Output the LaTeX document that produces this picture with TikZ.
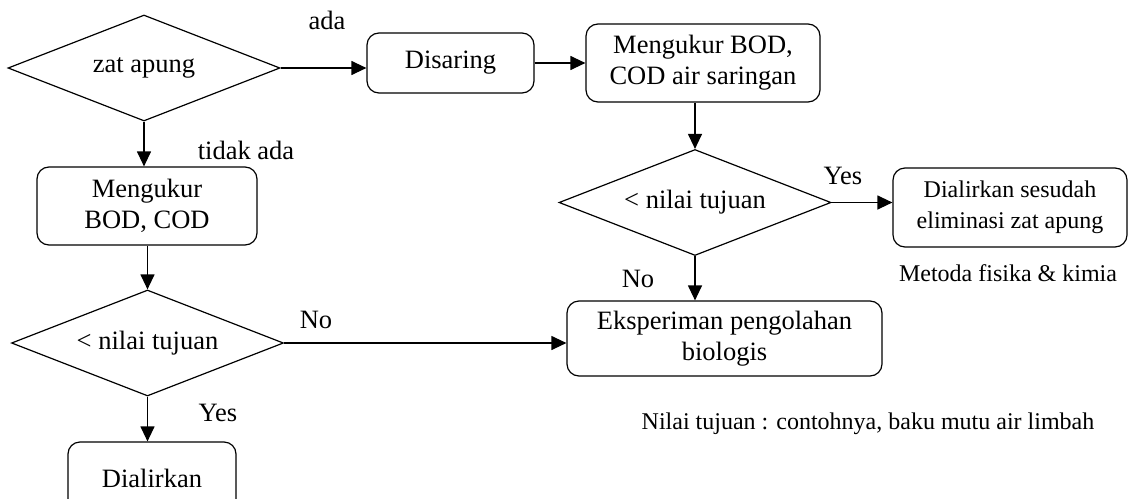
\documentclass[tikz,border=0pt]{standalone}
\usepackage{fontspec}
\setmainfont{Liberation Serif}
\usetikzlibrary{shapes.geometric,arrows.meta}
\newcommand\fbig{\fontsize{26.5}{31}\selectfont}
\newcommand\fsmall{\fontsize{24}{31}\selectfont}
\begin{document}
\begin{tikzpicture}[x=1pt,y=-1pt,
  line width=1.2pt,
  procbox/.style={draw, rounded corners=12pt, align=center, inner sep=0pt, font=\fbig},
  decide/.style={draw, shape=diamond, aspect=2.57, inner sep=0pt,
    minimum width=272pt, minimum height=106pt, font=\fbig},
  lbl/.style={inner sep=0pt, font=\fbig},
  note/.style={inner sep=0pt, font=\fsmall},
  flow/.style={-{Triangle[length=15pt,width=14pt]}}
]
\useasboundingbox (0,0) rectangle (1129,498);
\clip (0,0) rectangle (1129,498);

% decisions
\node[decide] (d1) at (144,68) {zat apung};
\node[decide] (d2) at (695,202.5) {< nilai tujuan};
\node[decide] (d3) at (147.5,343) {< nilai tujuan};

% process boxes
\node[procbox, minimum width=167pt, minimum height=60pt] (dis) at (450.5,63) {Disaring};
\node[procbox, minimum width=234pt, minimum height=78pt] (b2) at (703,63) {Mengukur BOD,\\COD air saringan};
\node[procbox, minimum width=234pt, minimum height=79pt, font=\fsmall] (b3) at (1010,207.5) {Dialirkan sesudah\\eliminasi zat apung};
\node[procbox, minimum width=315pt, minimum height=75pt] (b4) at (724.5,338.5) {Eksperiman pengolahan\\biologis};
\node[procbox, minimum width=220pt, minimum height=78pt] (b5) at (147,206) {Mengukur\\BOD, COD};
\node[procbox, minimum width=168pt, minimum height=72pt] (b6) at (152,478) {Dialirkan};

% labels
\node[lbl] (lada) at (327,20) {ada};
\node[lbl] (ltidak) at (246,150) {tidak ada};
\node[lbl] (lyes1) at (843,176) {Yes};
\node[lbl] (lno1) at (638,279) {No};
\node[lbl] (lno2) at (316,320) {No};
\node[lbl] (lyes2) at (218,413) {Yes};
\node[note] (lmet) at (1008,273) {Metoda fisika \& kimia};
\node[note] (lnil) at (868,424) {Nilai tujuan : contohnya, baku mutu air limbah};

% connectors
\draw[flow] (d1.east) -- (d1.east -| dis.west);
\draw[flow] (dis.east) -- (dis.east -| b2.west);
\draw[flow] (b2.south -| d2.north) -- (d2.north);
\draw[flow] (d2.east) -- (d2.east -| b3.west);
\draw[flow] (d2.south) -- (d2.south |- b4.north);
\draw[flow] (d1.south) -- (d1.south |- b5.north);
\draw[flow] (b5.south -| d3.north) -- (d3.north);
\draw[flow] (d3.east) -- (d3.east -| b4.west);
\draw[flow] (d3.south) -- (d3.south |- b6.north);
\end{tikzpicture}
\end{document}
